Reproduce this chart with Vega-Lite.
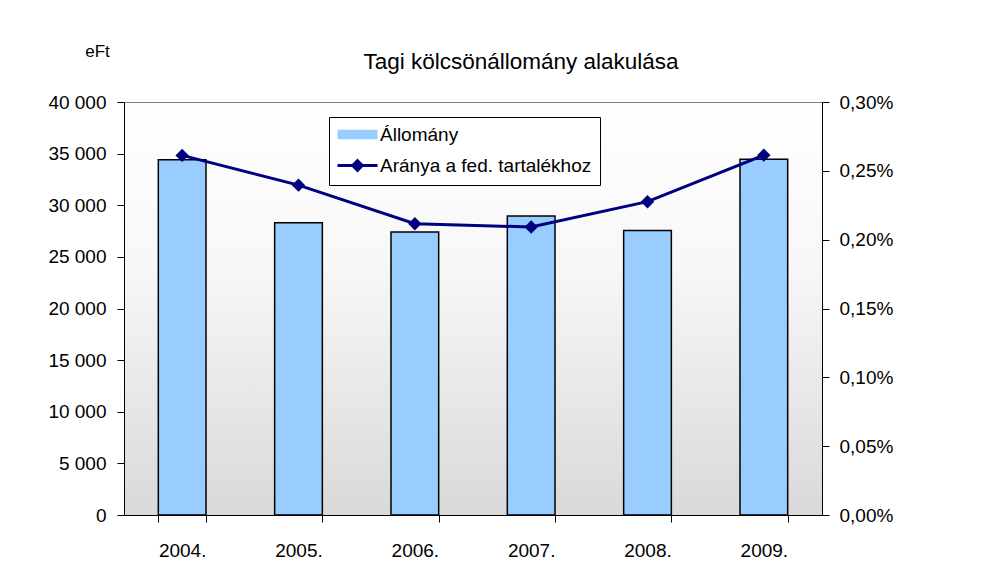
{
  "$schema": "https://vega.github.io/schema/vega-lite/v6.json",
  "width": 698,
  "height": 413,
  "autosize": {"type": "none"},
  "padding": {"left": 124, "top": 102, "right": 159, "bottom": 68},
  "background": "white",
  "title": {
    "text": "Tagi kölcsönállomány alakulása",
    "frame": "group",
    "anchor": "middle",
    "dx": 48,
    "offset": -31,
    "fontSize": 22.5,
    "font": "Liberation Sans",
    "fontWeight": "normal",
    "color": "black"
  },
  "data": {
    "values": [
      {"ev": "2004.", "allomany": 34400, "arany": 0.002612},
      {"ev": "2005.", "allomany": 28300, "arany": 0.002396},
      {"ev": "2006.", "allomany": 27400, "arany": 0.002116},
      {"ev": "2007.", "allomany": 28950, "arany": 0.002092},
      {"ev": "2008.", "allomany": 27550, "arany": 0.002276},
      {"ev": "2009.", "allomany": 34450, "arany": 0.002614}
    ]
  },
  "encoding": {
    "x": {
      "field": "ev",
      "type": "nominal",
      "sort": null,
      "scale": {"paddingInner": 0.59, "paddingOuter": 0.295},
      "axis": {
        "title": null,
        "labelAngle": 0,
        "tickBand": "extent",
        "tickSize": 7,
        "labelPadding": 19,
        "labelFontSize": 19
      }
    }
  },
  "layer": [
    {
      "mark": {"type": "bar", "stroke": "black", "strokeWidth": 1.5},
      "encoding": {
        "y": {
          "field": "allomany",
          "type": "quantitative",
          "scale": {"domain": [0, 40000], "nice": false},
          "axis": {
            "values": [0, 5000, 10000, 15000, 20000, 25000, 30000, 35000, 40000],
            "format": ",d",
            "title": "eFt",
            "titleAngle": 0,
            "titleX": -27,
            "titleY": -46,
            "titleAlign": "center",
            "titleBaseline": "alphabetic",
            "titleFontSize": 17,
            "titleFontWeight": "normal",
            "titleFont": "Liberation Sans",
            "titleColor": "black",
            "grid": false,
            "tickSize": 7,
            "labelPadding": 11,
            "labelFontSize": 19
          }
        },
        "color": {
          "datum": "Állomány",
          "type": "nominal",
          "scale": {
            "domain": ["Állomány", "Aránya a fed. tartalékhoz"],
            "range": ["#99ccff", "#000080"]
          },
          "legend": {
            "title": null,
            "orient": "none",
            "legendX": 205,
            "legendY": 15,
            "strokeColor": "black",
            "fillColor": "white",
            "padding": 8,
            "symbolSize": 256,
            "symbolOffset": 11,
            "labelOffset": 13,
            "rowPadding": 9,
            "labelFontSize": 19,
            "labelFont": "Liberation Sans",
            "labelColor": "black",
            "labelLimit": 0,
            "cornerRadius": 0,
            "symbolType": {"expr": "datum.value === 'Állomány' ? 'M-2.4,-0.5H2.4V0.5H-2.4Z' : 'M-2.5,0H2.5M0,-0.6L0.6,0L0,0.6L-0.6,0Z'"},
            "symbolFillColor": {"expr": "datum.value === 'Állomány' ? '#99ccff' : '#000080'"},
            "symbolStrokeColor": {"expr": "datum.value === 'Állomány' ? 'black' : '#000080'"},
            "symbolStrokeWidth": {"expr": "datum.value === 'Állomány' ? 1.5 : 3"},
            "symbolOpacity": 1
          }
        }
      }
    },
    {
      "mark": {
        "type": "line",
        "strokeWidth": 3,
        "point": {"filled": true, "shape": "diamond", "size": 180}
      },
      "encoding": {
        "y": {
          "field": "arany",
          "type": "quantitative",
          "scale": {"domain": [0, 0.003], "nice": false},
          "axis": {
            "orient": "right",
            "values": [0, 0.0005, 0.001, 0.0015, 0.002, 0.0025, 0.003],
            "format": ".2%",
            "title": null,
            "grid": false,
            "tickSize": 7,
            "labelPadding": 10,
            "labelFontSize": 19
          }
        },
        "color": {"datum": "Aránya a fed. tartalékhoz", "type": "nominal"}
      }
    }
  ],
  "resolve": {"scale": {"y": "independent"}},
  "config": {
    "locale": {
      "number": {"decimal": ",", "thousands": " ", "grouping": [3], "currency": ["", " Ft"]}
    },
    "font": "Liberation Sans",
    "view": {
      "stroke": "#808080",
      "strokeWidth": 1,
      "fill": {
        "gradient": "linear",
        "x1": 0, "y1": 0, "x2": 0, "y2": 1,
        "stops": [
          {"offset": 0, "color": "#ffffff"},
          {"offset": 0.4, "color": "#f7f7f7"},
          {"offset": 1, "color": "#d9d9d9"}
        ]
      }
    },
    "axis": {
      "labelFont": "Liberation Sans",
      "labelColor": "black",
      "domainColor": "black",
      "tickColor": "black",
      "domainWidth": 1,
      "tickWidth": 1
    }
  }
}
